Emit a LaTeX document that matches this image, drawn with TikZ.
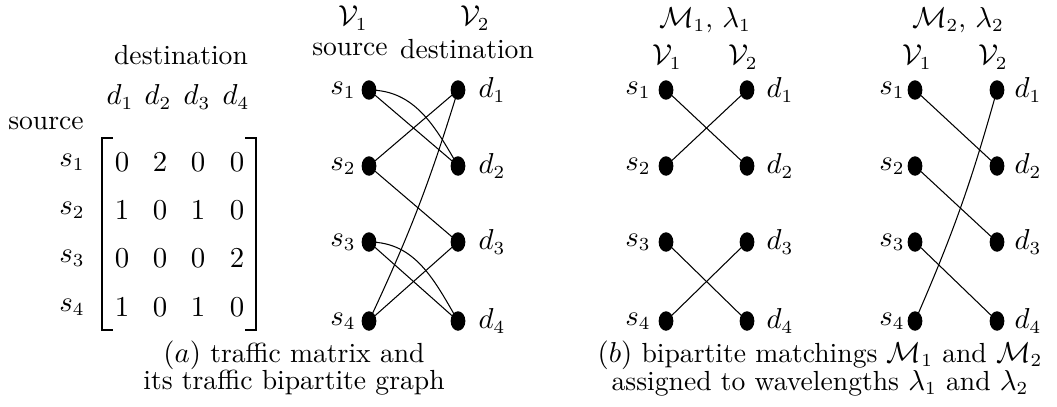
\documentclass[tikz,border=0pt]{standalone}
\usetikzlibrary{shapes.geometric}
\begin{document}
\begin{tikzpicture}[x=0.38pt,y=-0.38pt,
  every node/.style={font=\fontsize{10.5}{12.6}\selectfont},
  dot/.style={ellipse,fill=black,inner sep=0pt,minimum width=5.6pt,minimum height=7.4pt},
  lbl/.style={inner sep=0pt},
  edge/.style={line width=0.4pt}]
\useasboundingbox (0,0) rectangle (1057,406);
% ---------- (a) matrix ----------
\node[lbl] (dest) at (181,55) {destination};
\node[lbl] (h1) at (120,97) {$d_1$};
\node[lbl] (h2) at (158,97) {$d_2$};
\node[lbl] (h3) at (197,97) {$d_3$};
\node[lbl] (h4) at (236,97) {$d_4$};
\node[lbl] (src) at (46,123) {source};
\foreach \r/\y in {1/162,2/210,3/258,4/307}{
  \node[lbl] (ms\r) at (72,\y) {$s_\r$};
}
\foreach \r/\y/\a/\b/\c/\d in {1/162/0/2/0/0,2/210/1/0/1/0,3/258/0/0/0/2,4/307/1/0/1/0}{
  \node[lbl] (m\r a) at (122,\y) {$\a$};
  \node[lbl] (m\r b) at (160,\y) {$\b$};
  \node[lbl] (m\r c) at (198,\y) {$\c$};
  \node[lbl] (m\r d) at (237,\y) {$\d$};
}
\coordinate (lbt) at (102,138);
\coordinate (lbb) at (102,330);
\coordinate (rbt) at (256,138);
\coordinate (rbb) at (256,330);
\draw[line width=0.45pt] ([xshift=4pt]lbt) -- (lbt) -- (lbb) -- ([xshift=4pt]lbb);
\draw[line width=0.45pt] ([xshift=-4pt]rbt) -- (rbt) -- (rbb) -- ([xshift=-4pt]rbb);
% ---------- (a) bipartite graph ----------
\node[lbl] (aV1) at (353,18) {$\mathcal{V}_1$};
\node[lbl] (aV2) at (475,18) {$\mathcal{V}_2$};
\node[lbl] (asrc) at (350,49) {source};
\node[lbl] (adst) at (467,49) {destination};
\foreach \i/\y in {1/90,2/166,3/242,4/321}{
  \node[dot] (as\i) at (369,\y) {};
  \node[dot] (ad\i) at (458,\y) {};
  \node[lbl] (asl\i) at (343,\y) {$s_\i$};
  \node[lbl] (adl\i) at (492,\y) {$d_\i$};
}
\draw[edge] (as1.center) -- (ad2.center);
\draw[edge] (as1.center) to[out=0,in=120] (ad2.center);
\draw[edge] (as2.center) -- (ad1.center);
\draw[edge] (as2.center) -- (ad3.center);
\draw[edge] (as3.center) -- (ad4.center);
\draw[edge] (as3.center) to[out=0,in=120] (ad4.center);
\draw[edge] (as4.center) to[bend right=4] (ad1.center);
\draw[edge] (as4.center) -- (ad3.center);
\node[lbl] (capa1) at (294,355) {$(a)$ traffic matrix and};
\node[lbl] (capa2) at (294,383) {its traffic bipartite graph};
% ---------- (b) matching 1 ----------
\node[lbl] (M1) at (705,20) {$\mathcal{M}_1$, $\lambda_1$};
\node[lbl] (bV1) at (667,57) {$\mathcal{V}_1$};
\node[lbl] (bV2) at (743,57) {$\mathcal{V}_2$};
\foreach \i/\y in {1/90,2/166,3/242,4/321}{
  \node[dot] (bs\i) at (666,\y) {};
  \node[dot] (bd\i) at (747,\y) {};
  \node[lbl] (bsl\i) at (638,\y) {$s_\i$};
  \node[lbl] (bdl\i) at (780,\y) {$d_\i$};
}
\draw[edge] (bs1.center) -- (bd2.center);
\draw[edge] (bs2.center) -- (bd1.center);
\draw[edge] (bs3.center) -- (bd4.center);
\draw[edge] (bs4.center) -- (bd3.center);
% ---------- (b) matching 2 ----------
\node[lbl] (M2) at (958,20) {$\mathcal{M}_2$, $\lambda_2$};
\node[lbl] (cV1) at (917,57) {$\mathcal{V}_1$};
\node[lbl] (cV2) at (993,57) {$\mathcal{V}_2$};
\foreach \i/\y in {1/90,2/166,3/242,4/321}{
  \node[dot] (cs\i) at (915,\y) {};
  \node[dot] (cd\i) at (997,\y) {};
  \node[lbl] (csl\i) at (892,\y) {$s_\i$};
  \node[lbl] (cdl\i) at (1028,\y) {$d_\i$};
}
\draw[edge] (cs1.center) -- (cd2.center);
\draw[edge] (cs2.center) -- (cd3.center);
\draw[edge] (cs3.center) -- (cd4.center);
\draw[edge] (cs4.center) to[bend right=4] (cd1.center);
\node[lbl] (capb1) at (820,355) {$(b)$ bipartite matchings $\mathcal{M}_1$ and $\mathcal{M}_2$};
\node[lbl] (capb2) at (820,383) {assigned to wavelengths $\lambda_1$ and $\lambda_2$};
\end{tikzpicture}
\end{document}
